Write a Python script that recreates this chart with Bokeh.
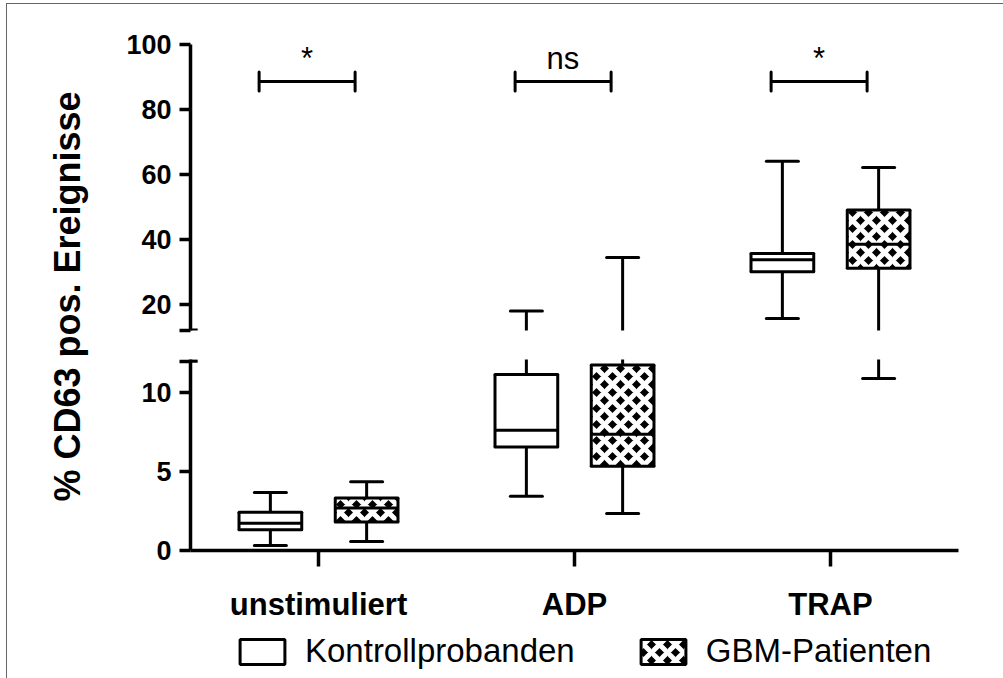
import math
from bokeh.plotting import figure
from bokeh.models import (ColumnDataSource, FactorRange, Range1d, FixedTicker,
                          Legend, LegendItem, Label)
from bokeh.transform import dodge
from bokeh.layouts import row, column
from bokeh.core.properties import value
from bokeh.embed import file_html
from bokeh.resources import INLINE

# ---------------- data ----------------
categories = ["unstimuliert", "ADP", "TRAP"]
series = ["Kontrollprobanden", "GBM-Patienten"]

ctrl_min = [0.32, 3.43, 15.6]
ctrl_q1 = [1.31, 6.56, 30.0]
ctrl_med = [1.73, 7.62, 33.7]
ctrl_q3 = [2.43, 11.15, 35.6]
ctrl_max = [3.68, 17.9, 64.0]

gbm_min = [0.57, 2.35, 10.9]
gbm_q1 = [1.80, 5.33, 31.1]
gbm_med = [2.70, 7.37, 38.5]
gbm_q3 = [3.32, 11.75, 49.0]
gbm_max = [4.36, 34.4, 62.1]

sig_text = ["*", "ns", "*"]
sig_level = [88.6, 88.6, 88.6]

upper_ticks = [20, 40, 60, 80, 100]
lower_ticks = [0, 5, 10]
break_value = 12

y_title = "% CD63 pos. Ereignisse"

# ---------------- style ----------------
FONT = "Liberation Sans"
LW = 3
OFF = 0.188
BOXW = 0.245
CAPW = 0.0625
FIG_W = 895
NAN = float("nan")

x_range = FactorRange(factors=categories)


def box_source(lo, q1, med, q3, hi, seg_lo, seg_hi):
    """Box statistics; horizontal edges outside this axis segment are hidden."""
    def keep(vals):
        return [v if seg_lo <= v <= seg_hi else NAN for v in vals]
    return ColumnDataSource(dict(
        cat=categories, lo=lo, q1=q1, med=med, q3=q3, hi=hi,
        lo_h=keep(lo), q1_h=keep(q1), med_h=keep(med), q3_h=keep(q3), hi_h=keep(hi),
        mid=[(a + b) / 2 for a, b in zip(q1, q3)],
        h=[b - a for a, b in zip(q1, q3)]))


sig_src = ColumnDataSource(dict(cat=categories, lab=sig_text, y=sig_level,
                                ty=[v + 7.1 for v in sig_level],
                                c0=[v - 2.9 for v in sig_level],
                                c1=[v + 2.9 for v in sig_level]))


def d(off):
    return dodge("cat", off, range=x_range)


def box_fill(hatched):
    if hatched:
        return dict(fill_color="black", hatch_pattern="diagonal_cross",
                    hatch_color="white", hatch_weight=5, hatch_scale=16)
    return dict(fill_color="white")


def seg(p, src, x0, y0, x1, y1, cap="round"):
    p.segment(x0=x0, y0=y0, x1=x1, y1=y1, source=src, line_color="black",
              line_width=LW, line_cap=cap)


def draw_boxes(p, src, off, hatched):
    L, R = off - BOXW / 2, off + BOXW / 2
    seg(p, src, d(off), "lo", d(off), "hi", cap="butt")
    for fld in ("lo_h", "hi_h"):
        seg(p, src, d(off - CAPW), fld, d(off + CAPW), fld)
    p.rect(x=d(off), y="mid", width=BOXW, height="h", source=src,
           line_color=None, **box_fill(hatched))
    seg(p, src, d(L), "q1", d(L), "q3", cap="butt")
    seg(p, src, d(R), "q1", d(R), "q3", cap="butt")
    seg(p, src, d(L), "q1_h", d(R), "q1_h")
    seg(p, src, d(L), "q3_h", d(R), "q3_h")
    seg(p, src, d(L), "med_h", d(R), "med_h", cap="butt")


def style_y(p, ticks):
    ax = p.yaxis[0]
    ax.ticker = FixedTicker(ticks=ticks + [break_value])
    ax.major_label_overrides = {break_value: ""}
    ax.axis_line_width = 3.5
    ax.major_tick_line_width = 3.5
    ax.major_tick_out = 11
    ax.major_tick_in = 0
    ax.minor_tick_line_color = None
    ax.major_label_standoff = 8
    ax.major_label_text_font = FONT
    ax.major_label_text_font_style = "bold"
    ax.major_label_text_font_size = "27px"
    ax.major_label_text_color = "black"


def base_fig(h, yr, top, bottom, xaxis, yaxis=True):
    p = figure(width=FIG_W, height=h, x_range=x_range, y_range=yr,
               toolbar_location=None, output_backend="svg",
               x_axis_location="below" if xaxis else None,
               y_axis_location="left" if yaxis else None,
               min_border_left=82, min_border_right=45,
               min_border_top=top, min_border_bottom=bottom,
               outline_line_color=None, background_fill_color="white",
               border_fill_color="white")
    p.grid.visible = False
    return p


# ---------------- upper segment ----------------
top_ctrl = box_source(ctrl_min, ctrl_q1, ctrl_med, ctrl_q3, ctrl_max, break_value, 100)
top_gbm = box_source(gbm_min, gbm_q1, gbm_med, gbm_q3, gbm_max, break_value, 100)

p_top = base_fig(340, Range1d(11.9, 100), 40, 14, False)
style_y(p_top, upper_ticks)
draw_boxes(p_top, top_ctrl, -OFF, False)
draw_boxes(p_top, top_gbm, OFF, True)
p_top.segment(x0=[0], y0=[break_value], x1=[0.028], y1=[break_value],
              line_color="black", line_width=3.5)
seg(p_top, sig_src, d(-0.232), "y", d(0.143), "y", cap="butt")
for off in (-0.232, 0.143):
    seg(p_top, sig_src, d(off), "c0", d(off), "c1")
p_top.text(x=d(-0.045), y="ty", text="lab", source=sig_src,
           text_font=value(FONT), text_font_size="31px", text_color="black",
           text_align="center", text_baseline="middle")

# ---------------- lower segment ----------------
bot_ctrl = box_source(ctrl_min, ctrl_q1, ctrl_med, ctrl_q3, ctrl_max, 0, break_value)
bot_gbm = box_source(gbm_min, gbm_q1, gbm_med, gbm_q3, gbm_max, 0, break_value)

p_bot = base_fig(280, Range1d(0, 12.1), 15, 74, True)
style_y(p_bot, lower_ticks)
draw_boxes(p_bot, bot_ctrl, -OFF, False)
draw_boxes(p_bot, bot_gbm, OFF, True)
p_bot.segment(x0=[0], y0=[break_value], x1=[0.028], y1=[break_value],
              line_color="black", line_width=3.5)

xa = p_bot.xaxis[0]
xa.axis_line_width = 3.5
xa.major_tick_line_width = 3.5
xa.major_tick_out = 16
xa.major_tick_in = 0
xa.major_label_standoff = 20
xa.major_label_text_font = FONT
xa.major_label_text_font_style = "bold"
xa.major_label_text_font_size = "31px"
xa.major_label_text_color = "black"

# ---------------- legend strip ----------------
p_leg = base_fig(54, Range1d(0, 1), 0, 0, False, yaxis=False)
leg_ctrl = p_leg.vbar(x=d(-OFF), width=BOXW, bottom="q1", top="q3",
                      source=bot_ctrl, line_color="black", line_width=LW,
                      **box_fill(False))
leg_gbm = p_leg.vbar(x=d(OFF), width=BOXW, bottom="q1", top="q3",
                     source=bot_gbm, line_color="black", line_width=LW,
                     **box_fill(True))
leg_ctrl.visible = False
leg_gbm.visible = False
legend = Legend(items=[LegendItem(label=series[0], renderers=[leg_ctrl]),
                       LegendItem(label=series[1], renderers=[leg_gbm])],
                orientation="horizontal", location=(44, 8),
                border_line_color=None, background_fill_alpha=0,
                inactive_fill_alpha=0,
                label_text_font=FONT, label_text_font_size="33px",
                label_text_color="black",
                glyph_width=56, glyph_height=31, label_standoff=15,
                spacing=60, padding=2, margin=0)
p_leg.add_layout(legend)

# ---------------- y title panel ----------------
p_lab = figure(width=101, height=674, x_range=Range1d(0, 101),
               y_range=Range1d(0, 674), toolbar_location=None,
               output_backend="svg", x_axis_location=None, y_axis_location=None,
               min_border=0, outline_line_color=None)
p_lab.grid.visible = False
p_lab.add_layout(Label(x=60, y=382, text=y_title, angle=math.pi / 2,
                       text_align="center", text_baseline="middle",
                       text_font=FONT, text_font_style="bold",
                       text_font_size="36px", text_color="black"))

layout = row(p_lab, column(p_top, p_bot, p_leg, spacing=0), spacing=0,
             styles={"margin-left": "6px", "margin-top": "3px",
                     "border-left": "1px solid #666", "border-top": "1px solid #666"})

open("out.html", "w").write(file_html(layout, INLINE))
